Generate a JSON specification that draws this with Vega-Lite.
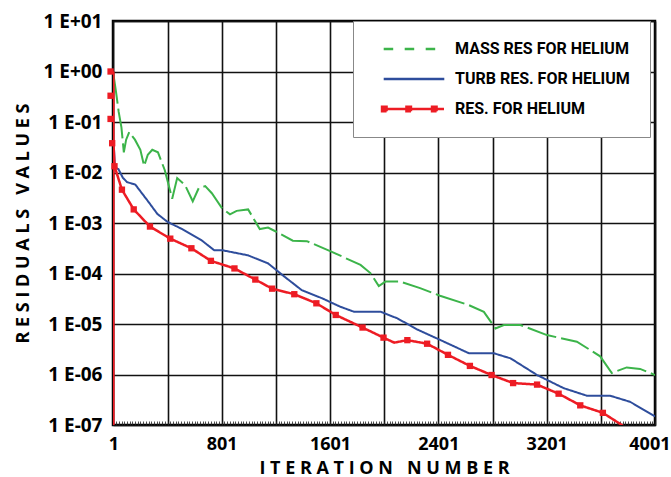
{
  "$schema": "https://vega.github.io/schema/vega-lite/v6.json",
  "width": 542,
  "height": 404,
  "autosize": {"type": "none"},
  "padding": {"left": 113, "top": 21, "right": 16, "bottom": 52},
  "background": "white",
  "config": {"view": {"stroke": "black", "strokeWidth": 2.5}, "font": "Open Sans"},
  "datasets": {
    "lines": [
      {"series": "MASS RES FOR HELIUM", "iteration": 1, "value": 0.891},
      {"series": "MASS RES FOR HELIUM", "iteration": 20, "value": 0.398},
      {"series": "MASS RES FOR HELIUM", "iteration": 40, "value": 0.158},
      {"series": "MASS RES FOR HELIUM", "iteration": 60, "value": 0.0794},
      {"series": "MASS RES FOR HELIUM", "iteration": 78, "value": 0.0251},
      {"series": "MASS RES FOR HELIUM", "iteration": 95, "value": 0.0447},
      {"series": "MASS RES FOR HELIUM", "iteration": 118, "value": 0.0631},
      {"series": "MASS RES FOR HELIUM", "iteration": 160, "value": 0.0447},
      {"series": "MASS RES FOR HELIUM", "iteration": 200, "value": 0.0282},
      {"series": "MASS RES FOR HELIUM", "iteration": 228, "value": 0.0135},
      {"series": "MASS RES FOR HELIUM", "iteration": 255, "value": 0.0224},
      {"series": "MASS RES FOR HELIUM", "iteration": 288, "value": 0.0282},
      {"series": "MASS RES FOR HELIUM", "iteration": 330, "value": 0.0251},
      {"series": "MASS RES FOR HELIUM", "iteration": 380, "value": 0.0112},
      {"series": "MASS RES FOR HELIUM", "iteration": 435, "value": 0.00302},
      {"series": "MASS RES FOR HELIUM", "iteration": 472, "value": 0.00776},
      {"series": "MASS RES FOR HELIUM", "iteration": 530, "value": 0.00562},
      {"series": "MASS RES FOR HELIUM", "iteration": 587, "value": 0.00269},
      {"series": "MASS RES FOR HELIUM", "iteration": 631, "value": 0.0049},
      {"series": "MASS RES FOR HELIUM", "iteration": 679, "value": 0.00537},
      {"series": "MASS RES FOR HELIUM", "iteration": 728, "value": 0.00389},
      {"series": "MASS RES FOR HELIUM", "iteration": 801, "value": 0.002},
      {"series": "MASS RES FOR HELIUM", "iteration": 862, "value": 0.00148},
      {"series": "MASS RES FOR HELIUM", "iteration": 911, "value": 0.00174},
      {"series": "MASS RES FOR HELIUM", "iteration": 996, "value": 0.00186},
      {"series": "MASS RES FOR HELIUM", "iteration": 1082, "value": 0.000759},
      {"series": "MASS RES FOR HELIUM", "iteration": 1143, "value": 0.000813},
      {"series": "MASS RES FOR HELIUM", "iteration": 1216, "value": 0.000646},
      {"series": "MASS RES FOR HELIUM", "iteration": 1326, "value": 0.000447},
      {"series": "MASS RES FOR HELIUM", "iteration": 1430, "value": 0.000437},
      {"series": "MASS RES FOR HELIUM", "iteration": 1606, "value": 0.000275},
      {"series": "MASS RES FOR HELIUM", "iteration": 1826, "value": 0.000148},
      {"series": "MASS RES FOR HELIUM", "iteration": 1899, "value": 0.000102},
      {"series": "MASS RES FOR HELIUM", "iteration": 1961, "value": 0.0000562},
      {"series": "MASS RES FOR HELIUM", "iteration": 2010, "value": 0.0000692},
      {"series": "MASS RES FOR HELIUM", "iteration": 2120, "value": 0.0000692},
      {"series": "MASS RES FOR HELIUM", "iteration": 2266, "value": 0.0000513},
      {"series": "MASS RES FOR HELIUM", "iteration": 2413, "value": 0.0000363},
      {"series": "MASS RES FOR HELIUM", "iteration": 2621, "value": 0.000024},
      {"series": "MASS RES FOR HELIUM", "iteration": 2737, "value": 0.0000174},
      {"series": "MASS RES FOR HELIUM", "iteration": 2823, "value": 0.00000813},
      {"series": "MASS RES FOR HELIUM", "iteration": 2884, "value": 0.00000955},
      {"series": "MASS RES FOR HELIUM", "iteration": 3007, "value": 0.00000955},
      {"series": "MASS RES FOR HELIUM", "iteration": 3203, "value": 0.00000603},
      {"series": "MASS RES FOR HELIUM", "iteration": 3424, "value": 0.00000447},
      {"series": "MASS RES FOR HELIUM", "iteration": 3596, "value": 0.00000229},
      {"series": "MASS RES FOR HELIUM", "iteration": 3682, "value": 0.00000107},
      {"series": "MASS RES FOR HELIUM", "iteration": 3792, "value": 0.00000138},
      {"series": "MASS RES FOR HELIUM", "iteration": 3891, "value": 0.00000129},
      {"series": "MASS RES FOR HELIUM", "iteration": 4001, "value": 0.000000977},
      {"series": "TURB RES. FOR HELIUM", "iteration": 6, "value": 0.0282},
      {"series": "TURB RES. FOR HELIUM", "iteration": 12, "value": 0.0126},
      {"series": "TURB RES. FOR HELIUM", "iteration": 38, "value": 0.0117},
      {"series": "TURB RES. FOR HELIUM", "iteration": 70, "value": 0.00794},
      {"series": "TURB RES. FOR HELIUM", "iteration": 101, "value": 0.00646},
      {"series": "TURB RES. FOR HELIUM", "iteration": 163, "value": 0.00575},
      {"series": "TURB RES. FOR HELIUM", "iteration": 251, "value": 0.00282},
      {"series": "TURB RES. FOR HELIUM", "iteration": 326, "value": 0.00151},
      {"series": "TURB RES. FOR HELIUM", "iteration": 401, "value": 0.00105},
      {"series": "TURB RES. FOR HELIUM", "iteration": 501, "value": 0.000776},
      {"series": "TURB RES. FOR HELIUM", "iteration": 651, "value": 0.000457},
      {"series": "TURB RES. FOR HELIUM", "iteration": 746, "value": 0.000288},
      {"series": "TURB RES. FOR HELIUM", "iteration": 808, "value": 0.000288},
      {"series": "TURB RES. FOR HELIUM", "iteration": 995, "value": 0.000229},
      {"series": "TURB RES. FOR HELIUM", "iteration": 1144, "value": 0.000158},
      {"series": "TURB RES. FOR HELIUM", "iteration": 1268, "value": 0.0000851},
      {"series": "TURB RES. FOR HELIUM", "iteration": 1392, "value": 0.0000468},
      {"series": "TURB RES. FOR HELIUM", "iteration": 1541, "value": 0.0000324},
      {"series": "TURB RES. FOR HELIUM", "iteration": 1678, "value": 0.0000219},
      {"series": "TURB RES. FOR HELIUM", "iteration": 1780, "value": 0.0000174},
      {"series": "TURB RES. FOR HELIUM", "iteration": 1976, "value": 0.0000174},
      {"series": "TURB RES. FOR HELIUM", "iteration": 2099, "value": 0.0000129},
      {"series": "TURB RES. FOR HELIUM", "iteration": 2246, "value": 0.00000776},
      {"series": "TURB RES. FOR HELIUM", "iteration": 2418, "value": 0.00000479},
      {"series": "TURB RES. FOR HELIUM", "iteration": 2627, "value": 0.00000263},
      {"series": "TURB RES. FOR HELIUM", "iteration": 2811, "value": 0.00000263},
      {"series": "TURB RES. FOR HELIUM", "iteration": 2934, "value": 0.00000209},
      {"series": "TURB RES. FOR HELIUM", "iteration": 3130, "value": 0.000000977},
      {"series": "TURB RES. FOR HELIUM", "iteration": 3326, "value": 0.000000537},
      {"series": "TURB RES. FOR HELIUM", "iteration": 3498, "value": 0.00000038},
      {"series": "TURB RES. FOR HELIUM", "iteration": 3670, "value": 0.00000038},
      {"series": "TURB RES. FOR HELIUM", "iteration": 3817, "value": 0.000000288},
      {"series": "TURB RES. FOR HELIUM", "iteration": 4001, "value": 0.000000148},
      {"series": "RES. FOR HELIUM", "iteration": 1, "value": 0.00000001},
      {"series": "RES. FOR HELIUM", "iteration": 1, "value": 1},
      {"series": "RES. FOR HELIUM", "iteration": 1, "value": 0.331},
      {"series": "RES. FOR HELIUM", "iteration": 1, "value": 0.115},
      {"series": "RES. FOR HELIUM", "iteration": 1, "value": 0.038},
      {"series": "RES. FOR HELIUM", "iteration": 9, "value": 0.0133},
      {"series": "RES. FOR HELIUM", "iteration": 64, "value": 0.00457},
      {"series": "RES. FOR HELIUM", "iteration": 151, "value": 0.00186},
      {"series": "RES. FOR HELIUM", "iteration": 271, "value": 0.000851},
      {"series": "RES. FOR HELIUM", "iteration": 421, "value": 0.00049},
      {"series": "RES. FOR HELIUM", "iteration": 577, "value": 0.000316},
      {"series": "RES. FOR HELIUM", "iteration": 721, "value": 0.000178},
      {"series": "RES. FOR HELIUM", "iteration": 895, "value": 0.000126},
      {"series": "RES. FOR HELIUM", "iteration": 1049, "value": 0.0000759},
      {"series": "RES. FOR HELIUM", "iteration": 1173, "value": 0.0000501},
      {"series": "RES. FOR HELIUM", "iteration": 1337, "value": 0.0000389},
      {"series": "RES. FOR HELIUM", "iteration": 1500, "value": 0.0000257},
      {"series": "RES. FOR HELIUM", "iteration": 1643, "value": 0.0000151},
      {"series": "RES. FOR HELIUM", "iteration": 1841, "value": 0.00000851},
      {"series": "RES. FOR HELIUM", "iteration": 1996, "value": 0.00000537},
      {"series": "RES. FOR HELIUM", "iteration": 2075, "value": 0.00000427},
      {"series": "RES. FOR HELIUM", "iteration": 2172, "value": 0.00000479},
      {"series": "RES. FOR HELIUM", "iteration": 2318, "value": 0.00000407},
      {"series": "RES. FOR HELIUM", "iteration": 2472, "value": 0.00000245},
      {"series": "RES. FOR HELIUM", "iteration": 2634, "value": 0.00000148},
      {"series": "RES. FOR HELIUM", "iteration": 2794, "value": 0.000000977},
      {"series": "RES. FOR HELIUM", "iteration": 2953, "value": 0.000000676},
      {"series": "RES. FOR HELIUM", "iteration": 3130, "value": 0.000000631},
      {"series": "RES. FOR HELIUM", "iteration": 3289, "value": 0.000000417},
      {"series": "RES. FOR HELIUM", "iteration": 3449, "value": 0.000000245},
      {"series": "RES. FOR HELIUM", "iteration": 3616, "value": 0.000000174},
      {"series": "RES. FOR HELIUM", "iteration": 3756, "value": 0.0000001},
      {"series": "RES. FOR HELIUM", "iteration": 3860, "value": 0.00000005}
    ],
    "markers": [
      {"iteration": -20, "value": 1},
      {"iteration": -20, "value": 0.331},
      {"iteration": -20, "value": 0.115},
      {"iteration": -8, "value": 0.038},
      {"iteration": 9, "value": 0.0133},
      {"iteration": 64, "value": 0.00457},
      {"iteration": 151, "value": 0.00186},
      {"iteration": 271, "value": 0.000851},
      {"iteration": 421, "value": 0.00049},
      {"iteration": 577, "value": 0.000316},
      {"iteration": 721, "value": 0.000178},
      {"iteration": 895, "value": 0.000126},
      {"iteration": 1049, "value": 0.0000759},
      {"iteration": 1173, "value": 0.0000501},
      {"iteration": 1337, "value": 0.0000389},
      {"iteration": 1500, "value": 0.0000257},
      {"iteration": 1643, "value": 0.0000151},
      {"iteration": 1841, "value": 0.00000851},
      {"iteration": 1996, "value": 0.00000537},
      {"iteration": 2172, "value": 0.00000479},
      {"iteration": 2318, "value": 0.00000407},
      {"iteration": 2472, "value": 0.00000245},
      {"iteration": 2634, "value": 0.00000148},
      {"iteration": 2794, "value": 0.000000977},
      {"iteration": 2953, "value": 0.000000676},
      {"iteration": 3130, "value": 0.000000631},
      {"iteration": 3289, "value": 0.000000417},
      {"iteration": 3449, "value": 0.000000245},
      {"iteration": 3616, "value": 0.000000174}
    ]
  },
  "layer": [
    {
      "data": {"name": "lines"},
      "mark": {"type": "line", "clip": true},
      "encoding": {
        "x": {
          "field": "iteration",
          "type": "quantitative",
          "scale": {"domain": [-2, 4001], "nice": false, "zero": false},
          "axis": {
            "values": [1,21,41,61,81,101,121,141,161,181,201,221,241,261,281,301,321,341,361,381,401,421,441,461,481,501,521,541,561,581,601,621,641,661,681,701,721,741,761,781,801,821,841,861,881,901,921,941,961,981,1001,1021,1041,1061,1081,1101,1121,1141,1161,1181,1201,1221,1241,1261,1281,1301,1321,1341,1361,1381,1401,1421,1441,1461,1481,1501,1521,1541,1561,1581,1601,1621,1641,1661,1681,1701,1721,1741,1761,1781,1801,1821,1841,1861,1881,1901,1921,1941,1961,1981,2001,2021,2041,2061,2081,2101,2121,2141,2161,2181,2201,2221,2241,2261,2281,2301,2321,2341,2361,2381,2401,2421,2441,2461,2481,2501,2521,2541,2561,2581,2601,2621,2641,2661,2681,2701,2721,2741,2761,2781,2801,2821,2841,2861,2881,2901,2921,2941,2961,2981,3001,3021,3041,3061,3081,3101,3121,3141,3161,3181,3201,3221,3241,3261,3281,3301,3321,3341,3361,3381,3401,3421,3441,3461,3481,3501,3521,3541,3561,3581,3601,3621,3641,3661,3681,3701,3721,3741,3761,3781,3801,3821,3841,3861,3881,3901,3921,3941,3961,3981,4001],
            "tickCount": 1000,
            "format": "d",
            "labelExpr": "(datum.value - 1) % 800 === 0 ? datum.label : ''",
            "labelOverlap": false,
            "labelFlush": 0.2,
            "labelFlushOffset": 15,
            "domain": false,
            "ticks": true,
            "tickSize": -4,
            "tickColor": "#222222",
            "tickWidth": 0.8,
            "grid": true,
            "gridColor": "#111111",
            "gridWidth": 1.6,
            "gridOpacity": {"condition": {"test": "(datum.value - 1) % 400 === 0", "value": 1}, "value": 0},
            "labelFont": "Open Sans",
            "labelFontWeight": "bold",
            "labelFontSize": 18,
            "labelColor": "black",
            "labelPadding": 14,
            "title": "I T E R A T I O N\u00a0\u00a0\u00a0N U M B E R",
            "titleFont": "Open Sans",
            "titleFontWeight": "bold",
            "titleFontSize": 18,
            "titleColor": "black",
            "titleBaseline": "alphabetic",
            "titleY": 48
          }
        },
        "y": {
          "field": "value",
          "type": "quantitative",
          "scale": {"type": "log", "domain": [0.0000001, 10], "nice": false},
          "axis": {
            "values": [0.0000001, 0.000001, 0.00001, 0.0001, 0.001, 0.01, 0.1, 1, 10],
            "tickCount": 100,
            "labelExpr": "'1 E' + (datum.value >= 1 ? '+' : '-') + '0' + abs(round(log(datum.value) / LN10))",
            "labelOverlap": false,
            "labelFlush": false,
            "domain": false,
            "ticks": false,
            "grid": true,
            "gridColor": "#111111",
            "gridWidth": 1.6,
            "labelFont": "Open Sans",
            "labelFontWeight": "bold",
            "labelFontSize": 19,
            "labelColor": "black",
            "labelPadding": 11,
            "title": "R E S I D U A L S\u00a0\u00a0\u00a0V A L U E S",
            "titleFont": "Open Sans",
            "titleFontWeight": "bold",
            "titleFontSize": 18,
            "titleColor": "black",
            "titleAngle": 270,
            "titleBaseline": "alphabetic",
            "titleAlign": "center",
            "titleX": -85,
            "titleY": 202
          }
        },
        "color": {
          "field": "series",
          "type": "nominal",
          "scale": {
            "domain": ["MASS RES FOR HELIUM", "TURB RES. FOR HELIUM", "RES. FOR HELIUM"],
            "range": ["#3cb44a", "#2e4d9c", "#ed1c24"]
          },
          "legend": {
            "title": null,
            "orient": "none",
            "legendX": 240,
            "legendY": 0,
            "fillColor": "white",
            "strokeColor": "#888888",
            "padding": 20,
            "rowPadding": 14,
            "symbolSize": 100,
            "symbolStrokeWidth": 2.5,
            "symbolOffset": 32,
            "labelOffset": 34,
            "labelFont": "Roboto",
            "labelFontSize": 16,
            "labelFontWeight": "bold",
            "labelColor": "black",
            "labelLimit": 400,
            "encode": {
              "symbols": {
                "update": {
                  "shape": [
                    {"test": "datum.value === 'RES. FOR HELIUM'", "value": "M-6.4,0H6.2M-6.19,-0.45h0.9v0.9h-0.9zM-1.31,-0.45h0.9v0.9h-0.9zM3.81,-0.45h0.9v0.9h-0.9z"},
                    {"test": "datum.value === 'MASS RES FOR HELIUM'", "value": "M-5.86,0H4.8"},
                    {"value": "M-5.86,0H6.26"}
                  ],
                  "strokeDash": [
                    {"test": "datum.value === 'MASS RES FOR HELIUM'", "value": [9.5, 11.5]},
                    {"value": [1, 0]}
                  ],
                  "fill": [
                    {"test": "datum.value === 'RES. FOR HELIUM'", "value": "#ed1c24"},
                    {"value": "transparent"}
                  ]
                }
              }
            }
          }
        },
        "strokeDash": {"condition": {"test": "datum.series === 'MASS RES FOR HELIUM'", "value": [30, 5]}, "value": [1, 0]},
        "strokeWidth": {"condition": {"test": "datum.series === 'RES. FOR HELIUM'", "value": 2.5}, "value": 2}
      }
    },
    {
      "data": {"name": "markers"},
      "mark": {"type": "point", "shape": "square", "filled": true, "size": 40, "color": "#ed1c24", "opacity": 1},
      "encoding": {
        "x": {"field": "iteration", "type": "quantitative", "axis": {"title": "I T E R A T I O N\u00a0\u00a0\u00a0N U M B E R"}},
        "y": {"field": "value", "type": "quantitative", "axis": {"title": "R E S I D U A L S\u00a0\u00a0\u00a0V A L U E S"}}
      }
    }
  ]
}
